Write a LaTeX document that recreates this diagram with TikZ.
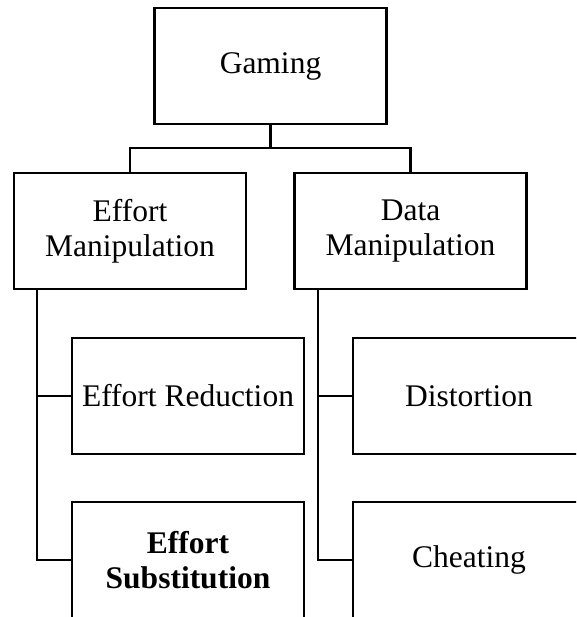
\documentclass[tikz,border=0pt]{standalone}
\usepackage{fontspec}
\setmainfont{Liberation Serif}
\begin{document}
\begin{tikzpicture}[x=1pt,y=-1pt,
  box/.style={draw=black, line width=2.2pt, minimum width=232pt, minimum height=116pt,
    align=center, inner sep=2pt, font=\fontsize{31.5}{35}\selectfont},
  link/.style={draw=black, line width=2.2pt}]
\useasboundingbox (0,0) rectangle (576,617);
\clip (0,0) rectangle (576,617);
\node[box] (gaming) at (270.5,66) {Gaming};
\node[box] (em) at (130,231) {Effort\\Manipulation};
\node[box] (dm) at (410.5,231) {Data\\Manipulation};
\node[box] (er) at (188,396) {Effort Reduction};
\node[box] (dist) at (469,396) {Distortion};
\node[box] (es) at (188,560) {\textbf{Effort}\\\textbf{Substitution}};
\node[box] (cheat) at (469,560) {Cheating};
\coordinate (bar) at (0,148);
\coordinate (ls) at (37,0);
\coordinate (rs) at (318,0);
\draw[link] (gaming.south) -- (gaming.south |- bar);
\draw[link] (em.north) -- (em.north |- bar) -- (dm.north |- bar) -- (dm.north);
\draw[link] (ls |- em.south) -- (ls |- es.west) -- (es.west);
\draw[link] (ls |- er.west) -- (er.west);
\draw[link] (rs |- dm.south) -- (rs |- cheat.west) -- (cheat.west);
\draw[link] (rs |- dist.west) -- (dist.west);
\end{tikzpicture}
\end{document}
